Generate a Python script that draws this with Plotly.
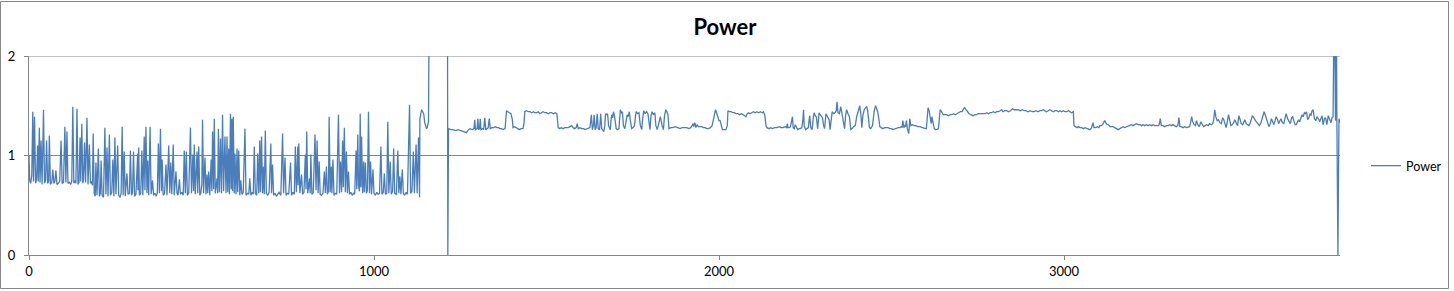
import plotly.graph_objects as go

# ---- data ----
low_regime = [
    (0, 1.00), (2, 0.75), (5, 0.72), (8, 0.80), (11, 1.44), (13, 0.74), (16, 1.39), (19, 0.72),
    (22, 0.76), (25, 1.10), (27, 0.74), (30, 1.28), (32, 0.73), (35, 1.15), (38, 0.71), (42, 1.46),
    (45, 0.72), (48, 0.75), (51, 1.15), (54, 0.72), (57, 0.74), (59, 1.20), (62, 0.71), (66, 0.73),
    (69, 0.86), (72, 0.72), (75, 0.74), (78, 0.85), (81, 0.71), (85, 0.72), (89, 0.74), (93, 1.15),
    (96, 0.72), (100, 0.73), (104, 1.29), (107, 0.73), (110, 1.24), (113, 0.72), (117, 0.73),
    (121, 0.71), (124, 0.74), (127, 1.49), (130, 0.72), (133, 0.75), (136, 0.72), (139, 1.47),
    (142, 0.71), (145, 0.73), (148, 1.18), (150, 0.74), (153, 1.32), (156, 0.72), (158, 0.75),
    (161, 1.13), (164, 0.73), (168, 1.38), (171, 0.71), (175, 1.11), (178, 0.72), (181, 0.74),
    (184, 0.70), (186, 1.22), (189, 0.62), (192, 0.59), (194, 0.93), (197, 0.60), (201, 1.07),
    (204, 0.59), (207, 0.62), (209, 0.95), (212, 0.60), (216, 0.58), (220, 1.28), (223, 0.61),
    (226, 1.08), (229, 0.59), (233, 1.21), (236, 0.60), (240, 0.63), (243, 0.96), (246, 0.59),
    (249, 1.18), (252, 0.61), (257, 1.10), (260, 0.60), (264, 0.58), (267, 0.62), (270, 1.29),
    (273, 0.60), (276, 1.04), (279, 0.59), (284, 0.82), (287, 0.61), (291, 0.62), (294, 1.05),
    (297, 0.60), (300, 0.63), (303, 1.04), (306, 0.59), (310, 0.61), (315, 1.02), (316, 0.65),
    (318, 1.08), (320, 0.60), (324, 0.62), (327, 1.05), (330, 0.60), (334, 1.19), (336, 0.65),
    (339, 1.29), (342, 0.62), (344, 0.95), (347, 0.60), (351, 1.29), (354, 0.61), (358, 0.75),
    (361, 0.60), (365, 0.62), (369, 0.59), (372, 0.63), (375, 1.12), (378, 0.62), (381, 1.27),
    (384, 0.64), (386, 0.96), (389, 0.60), (393, 0.62), (397, 0.91), (400, 0.60), (405, 1.10),
    (408, 0.62), (411, 0.93), (414, 0.61), (418, 1.11), (421, 0.60), (426, 0.84), (429, 0.62),
    (432, 0.60), (436, 0.76), (439, 0.61), (443, 0.63), (447, 0.60), (450, 1.05), (453, 0.62),
    (456, 1.04), (459, 0.60), (463, 0.62), (468, 1.28), (471, 0.62), (475, 1.01), (477, 0.64),
    (479, 1.11), (482, 0.61), (487, 1.04), (489, 0.62), (492, 1.09), (495, 0.60), (498, 0.62),
    (501, 0.71), (503, 1.36), (506, 0.62), (510, 0.98), (513, 0.61), (516, 0.81), (518, 0.62),
    (521, 0.84), (524, 0.60), (528, 0.96), (530, 0.64), (532, 1.24), (535, 0.66), (537, 1.37),
    (540, 0.62), (545, 0.77), (547, 0.62), (549, 1.27), (552, 0.63), (555, 1.17), (558, 0.62),
    (561, 1.41), (564, 0.64), (568, 1.19), (571, 0.62), (574, 1.19), (576, 0.63), (579, 1.07),
    (581, 0.61), (584, 1.42), (586, 0.66), (588, 1.37), (590, 0.64), (592, 1.39), (595, 0.62),
    (597, 1.02), (600, 0.61), (603, 1.07), (605, 0.63), (608, 1.05), (611, 0.60), (614, 0.75),
    (617, 0.61), (621, 0.63), (626, 1.27), (629, 0.60), (633, 0.62), (637, 0.61), (640, 0.77),
    (643, 0.60), (647, 0.63), (650, 0.61), (653, 1.09), (656, 0.62), (660, 0.60), (663, 1.02),
    (666, 0.62), (669, 1.15), (671, 0.63), (674, 1.19), (677, 0.62), (679, 0.89), (682, 0.61),
    (685, 1.25), (688, 0.62), (692, 0.60), (696, 0.63), (701, 1.12), (703, 0.62), (706, 0.91),
    (709, 0.60), (713, 0.62), (717, 0.59), (721, 0.61), (725, 0.63), (730, 0.60), (735, 1.22),
    (738, 0.62), (742, 0.98), (745, 0.60), (749, 0.62), (753, 0.61), (758, 0.93), (761, 0.60),
    (765, 0.63), (769, 0.61), (772, 1.09), (775, 0.63), (779, 1.09), (780, 0.70), (782, 1.12),
    (785, 0.62), (790, 0.81), (793, 0.61), (797, 0.63), (801, 1.01), (803, 0.66), (805, 1.24),
    (808, 0.62), (813, 0.77), (815, 0.62), (817, 1.01), (820, 0.61), (824, 0.63), (829, 1.21),
    (832, 0.65), (835, 1.15), (838, 0.62), (841, 0.94), (844, 0.61), (848, 0.60), (852, 0.62),
    (856, 0.84), (859, 0.62), (862, 0.89), (865, 0.61), (868, 0.64), (870, 1.39), (873, 0.63),
    (876, 0.89), (878, 0.62), (881, 0.96), (884, 0.60), (888, 0.62), (892, 0.61), (897, 1.41),
    (900, 0.62), (903, 0.94), (906, 0.63), (909, 1.15), (911, 0.68), (914, 1.28), (917, 0.63),
    (920, 1.04), (923, 0.62), (926, 0.84), (929, 0.61), (933, 0.63), (937, 0.60), (941, 0.62),
    (944, 0.61), (948, 1.05), (950, 0.66), (953, 1.21), (955, 0.70), (958, 0.64), (960, 1.42),
    (962, 0.68), (964, 1.19), (967, 0.62), (970, 0.94), (972, 0.63), (975, 0.93), (978, 0.62),
    (981, 0.65), (984, 1.44), (987, 0.62), (990, 0.94), (993, 0.61), (997, 0.86), (1000, 0.62),
    (1004, 0.60), (1008, 0.63), (1012, 0.61), (1016, 0.62), (1020, 1.09), (1023, 0.61),
    (1027, 0.63), (1030, 0.82), (1033, 0.61), (1037, 0.62), (1040, 1.34), (1043, 0.62),
    (1047, 0.94), (1050, 0.61), (1054, 0.64), (1057, 1.07), (1060, 0.62), (1065, 0.61),
    (1069, 1.05), (1072, 0.62), (1075, 0.79), (1078, 0.61), (1082, 0.86), (1085, 0.62),
    (1089, 0.60), (1093, 0.63), (1097, 0.61), (1103, 1.51), (1106, 0.62), (1110, 0.64),
    (1114, 1.04), (1117, 0.62), (1122, 1.11), (1125, 0.62), (1129, 1.18), (1132, 0.58),
    (1133, 1.37), (1136, 1.44), (1138, 1.46), (1141, 1.44), (1144, 1.42), (1147, 1.33),
    (1149, 1.29), (1152, 1.27), (1154, 1.28), (1156, 1.30), (1158, 1.34),
]

gap_segment = [(1160, 2.60), (1213, 2.60), (1214, 0.00)]

high_regime = [
    (1216, 1.27), (1222, 1.26), (1229, 1.26), (1236, 1.25), (1244, 1.26), (1252, 1.25),
    (1260, 1.24), (1268, 1.23), (1274, 1.26), (1278, 1.27), (1284, 1.26), (1290, 1.27),
    (1292, 1.36), (1294, 1.26), (1299, 1.27), (1301, 1.37), (1303, 1.26), (1306, 1.27),
    (1308, 1.37), (1310, 1.26), (1315, 1.27), (1318, 1.26), (1321, 1.38), (1324, 1.26),
    (1328, 1.27), (1331, 1.28), (1334, 1.37), (1337, 1.27), (1342, 1.28), (1347, 1.28),
    (1351, 1.29), (1356, 1.28), (1361, 1.28), (1365, 1.27), (1369, 1.27), (1374, 1.26),
    (1380, 1.27), (1384, 1.45), (1388, 1.44), (1393, 1.43), (1397, 1.42), (1401, 1.36),
    (1403, 1.28), (1408, 1.29), (1413, 1.28), (1417, 1.27), (1421, 1.26), (1426, 1.27),
    (1432, 1.27), (1435, 1.33), (1437, 1.44), (1442, 1.45), (1447, 1.44), (1452, 1.44),
    (1457, 1.43), (1462, 1.44), (1466, 1.43), (1471, 1.43), (1476, 1.44), (1481, 1.42),
    (1485, 1.43), (1490, 1.44), (1495, 1.43), (1500, 1.43), (1505, 1.42), (1510, 1.43),
    (1515, 1.43), (1520, 1.42), (1525, 1.43), (1530, 1.42), (1534, 1.28), (1538, 1.27),
    (1543, 1.28), (1548, 1.27), (1553, 1.28), (1558, 1.28), (1563, 1.28), (1568, 1.29),
    (1573, 1.30), (1577, 1.28), (1582, 1.27), (1586, 1.28), (1589, 1.32), (1592, 1.27),
    (1597, 1.28), (1602, 1.27), (1607, 1.27), (1612, 1.26), (1617, 1.27), (1622, 1.28),
    (1626, 1.28), (1630, 1.41), (1633, 1.26), (1636, 1.30), (1638, 1.41), (1641, 1.26),
    (1644, 1.28), (1647, 1.42), (1650, 1.27), (1654, 1.26), (1657, 1.42), (1660, 1.27),
    (1663, 1.25), (1666, 1.24), (1669, 1.30), (1671, 1.42), (1674, 1.41), (1677, 1.42),
    (1680, 1.30), (1685, 1.26), (1687, 1.35), (1689, 1.41), (1692, 1.38), (1694, 1.44),
    (1697, 1.40), (1700, 1.29), (1702, 1.27), (1706, 1.26), (1710, 1.27), (1714, 1.46),
    (1717, 1.43), (1720, 1.44), (1723, 1.30), (1727, 1.27), (1730, 1.35), (1734, 1.41),
    (1737, 1.39), (1740, 1.44), (1743, 1.35), (1747, 1.27), (1751, 1.28), (1755, 1.30),
    (1758, 1.40), (1760, 1.44), (1764, 1.42), (1768, 1.43), (1772, 1.30), (1776, 1.26),
    (1779, 1.38), (1782, 1.45), (1786, 1.42), (1790, 1.44), (1794, 1.42), (1797, 1.30),
    (1800, 1.26), (1803, 1.40), (1806, 1.44), (1810, 1.41), (1814, 1.43), (1817, 1.30),
    (1821, 1.26), (1826, 1.33), (1830, 1.39), (1835, 1.30), (1839, 1.26), (1842, 1.40),
    (1846, 1.46), (1849, 1.44), (1852, 1.41), (1855, 1.27), (1860, 1.28), (1867, 1.28),
    (1873, 1.29), (1880, 1.28), (1887, 1.27), (1893, 1.28), (1900, 1.28), (1906, 1.28),
    (1912, 1.27), (1918, 1.28), (1922, 1.30), (1925, 1.32), (1927, 1.29), (1930, 1.33),
    (1933, 1.28), (1936, 1.31), (1940, 1.29), (1945, 1.29), (1950, 1.29), (1955, 1.28),
    (1960, 1.28), (1965, 1.27), (1969, 1.27), (1975, 1.28), (1980, 1.30), (1985, 1.38),
    (1990, 1.46), (1994, 1.42), (1997, 1.37), (2000, 1.35), (2003, 1.35), (2006, 1.30),
    (2010, 1.26), (2015, 1.26), (2020, 1.26), (2024, 1.30), (2026, 1.45), (2030, 1.44),
    (2035, 1.44), (2040, 1.43), (2045, 1.43), (2050, 1.42), (2055, 1.42), (2059, 1.41),
    (2065, 1.42), (2070, 1.41), (2074, 1.40), (2078, 1.39), (2082, 1.42), (2086, 1.43),
    (2090, 1.42), (2095, 1.43), (2100, 1.44), (2105, 1.43), (2110, 1.44), (2115, 1.43),
    (2120, 1.44), (2125, 1.43), (2129, 1.44), (2133, 1.40), (2136, 1.30), (2139, 1.28),
    (2145, 1.27), (2150, 1.28), (2155, 1.27), (2162, 1.28), (2168, 1.28), (2175, 1.29),
    (2180, 1.28), (2186, 1.28), (2192, 1.29), (2196, 1.28), (2198, 1.32), (2200, 1.28),
    (2204, 1.28), (2207, 1.29), (2210, 1.33), (2213, 1.39), (2215, 1.28), (2218, 1.27),
    (2221, 1.31), (2224, 1.28), (2228, 1.26), (2232, 1.27), (2236, 1.27), (2240, 1.28),
    (2243, 1.35), (2245, 1.46), (2247, 1.30), (2251, 1.26), (2255, 1.27), (2259, 1.28),
    (2261, 1.35), (2263, 1.40), (2266, 1.28), (2270, 1.26), (2273, 1.37), (2276, 1.43),
    (2279, 1.40), (2282, 1.39), (2286, 1.27), (2290, 1.43), (2293, 1.41), (2297, 1.39),
    (2300, 1.38), (2303, 1.30), (2306, 1.27), (2310, 1.42), (2313, 1.39), (2316, 1.38),
    (2319, 1.36), (2322, 1.26), (2326, 1.38), (2328, 1.44), (2332, 1.42), (2336, 1.43),
    (2340, 1.45), (2342, 1.54), (2345, 1.43), (2349, 1.42), (2353, 1.49), (2357, 1.41),
    (2361, 1.35), (2364, 1.27), (2367, 1.40), (2370, 1.46), (2374, 1.42), (2378, 1.39),
    (2382, 1.26), (2386, 1.27), (2390, 1.29), (2395, 1.30), (2399, 1.39), (2404, 1.44),
    (2408, 1.50), (2411, 1.42), (2414, 1.28), (2417, 1.40), (2421, 1.46), (2425, 1.48),
    (2428, 1.49), (2431, 1.45), (2434, 1.30), (2436, 1.28), (2440, 1.27), (2445, 1.30),
    (2450, 1.45), (2454, 1.50), (2457, 1.47), (2460, 1.44), (2464, 1.35), (2466, 1.29),
    (2470, 1.28), (2475, 1.27), (2480, 1.28), (2485, 1.28), (2490, 1.28), (2495, 1.27),
    (2500, 1.27), (2504, 1.26), (2510, 1.27), (2515, 1.27), (2520, 1.28), (2525, 1.28),
    (2528, 1.29), (2531, 1.28), (2533, 1.35), (2536, 1.28), (2539, 1.30), (2541, 1.29),
    (2543, 1.35), (2546, 1.27), (2550, 1.22), (2553, 1.37), (2556, 1.30), (2560, 1.31),
    (2565, 1.30), (2570, 1.30), (2576, 1.29), (2582, 1.29), (2588, 1.28), (2594, 1.27),
    (2598, 1.27), (2601, 1.27), (2604, 1.40), (2606, 1.48), (2609, 1.45), (2612, 1.38),
    (2615, 1.32), (2617, 1.39), (2620, 1.32), (2624, 1.27), (2628, 1.26), (2632, 1.26),
    (2636, 1.27), (2639, 1.40), (2641, 1.46), (2645, 1.44), (2650, 1.41), (2655, 1.41),
    (2659, 1.41), (2665, 1.40), (2670, 1.41), (2675, 1.41), (2680, 1.42), (2685, 1.41),
    (2688, 1.42), (2694, 1.43), (2700, 1.44), (2705, 1.44), (2709, 1.47), (2712, 1.48),
    (2716, 1.46), (2720, 1.44), (2725, 1.42), (2730, 1.41), (2736, 1.40), (2741, 1.41),
    (2746, 1.41), (2751, 1.42), (2756, 1.42), (2761, 1.42), (2766, 1.42), (2771, 1.42),
    (2776, 1.43), (2781, 1.42), (2786, 1.43), (2790, 1.43), (2795, 1.44), (2800, 1.43),
    (2805, 1.44), (2810, 1.44), (2815, 1.45), (2819, 1.46), (2823, 1.44), (2828, 1.45),
    (2834, 1.45), (2839, 1.44), (2845, 1.45), (2851, 1.47), (2856, 1.46), (2862, 1.46),
    (2867, 1.46), (2873, 1.45), (2879, 1.46), (2885, 1.45), (2890, 1.45), (2896, 1.44),
    (2902, 1.45), (2908, 1.44), (2913, 1.44), (2919, 1.45), (2925, 1.44), (2930, 1.45),
    (2935, 1.45), (2940, 1.46), (2944, 1.45), (2949, 1.44), (2954, 1.45), (2959, 1.46),
    (2964, 1.45), (2969, 1.44), (2974, 1.45), (2979, 1.45), (2984, 1.44), (2988, 1.45),
    (2993, 1.44), (2998, 1.45), (3003, 1.44), (3008, 1.44), (3013, 1.45), (3018, 1.44),
    (3022, 1.43), (3027, 1.44), (3029, 1.30), (3033, 1.29), (3038, 1.28), (3042, 1.29),
    (3046, 1.28), (3051, 1.28), (3056, 1.27), (3061, 1.28), (3066, 1.27), (3070, 1.27),
    (3075, 1.26), (3080, 1.28), (3084, 1.33), (3087, 1.28), (3092, 1.28), (3097, 1.29),
    (3101, 1.28), (3104, 1.30), (3108, 1.30), (3112, 1.31), (3116, 1.33), (3118, 1.35),
    (3121, 1.33), (3125, 1.31), (3128, 1.31), (3133, 1.29), (3138, 1.29), (3142, 1.29),
    (3147, 1.28), (3152, 1.27), (3157, 1.26), (3162, 1.27), (3166, 1.28), (3171, 1.29),
    (3176, 1.28), (3181, 1.29), (3186, 1.30), (3190, 1.30), (3195, 1.31), (3200, 1.30),
    (3205, 1.31), (3210, 1.32), (3215, 1.31), (3220, 1.31), (3225, 1.30), (3229, 1.31),
    (3234, 1.30), (3239, 1.31), (3244, 1.30), (3249, 1.31), (3254, 1.30), (3258, 1.31),
    (3263, 1.30), (3268, 1.30), (3273, 1.30), (3276, 1.31), (3279, 1.37), (3282, 1.30),
    (3287, 1.30), (3292, 1.29), (3297, 1.30), (3302, 1.30), (3307, 1.31), (3312, 1.30),
    (3316, 1.31), (3320, 1.30), (3325, 1.29), (3330, 1.30), (3333, 1.38), (3336, 1.29),
    (3340, 1.29), (3345, 1.28), (3350, 1.29), (3355, 1.28), (3360, 1.29), (3364, 1.29),
    (3367, 1.33), (3370, 1.39), (3373, 1.34), (3377, 1.31), (3381, 1.30), (3384, 1.35),
    (3388, 1.31), (3392, 1.29), (3395, 1.32), (3397, 1.34), (3401, 1.31), (3405, 1.29),
    (3409, 1.30), (3413, 1.31), (3418, 1.30), (3422, 1.32), (3427, 1.31), (3431, 1.32),
    (3434, 1.36), (3437, 1.46), (3440, 1.39), (3444, 1.35), (3448, 1.36), (3452, 1.33),
    (3456, 1.32), (3460, 1.38), (3463, 1.36), (3466, 1.31), (3470, 1.28), (3474, 1.35),
    (3477, 1.41), (3480, 1.36), (3484, 1.30), (3488, 1.31), (3492, 1.33), (3495, 1.36),
    (3499, 1.32), (3503, 1.30), (3507, 1.40), (3510, 1.37), (3514, 1.32), (3518, 1.31),
    (3521, 1.34), (3524, 1.36), (3528, 1.32), (3532, 1.31), (3536, 1.30), (3540, 1.33),
    (3543, 1.38), (3546, 1.40), (3550, 1.38), (3553, 1.36), (3557, 1.34), (3562, 1.32),
    (3566, 1.30), (3570, 1.32), (3574, 1.37), (3577, 1.40), (3580, 1.44), (3584, 1.40),
    (3587, 1.36), (3590, 1.32), (3594, 1.29), (3598, 1.32), (3601, 1.37), (3605, 1.34),
    (3608, 1.31), (3612, 1.35), (3615, 1.39), (3619, 1.36), (3622, 1.32), (3626, 1.35),
    (3629, 1.37), (3633, 1.33), (3637, 1.32), (3641, 1.38), (3644, 1.42), (3648, 1.37),
    (3652, 1.34), (3656, 1.32), (3660, 1.38), (3663, 1.39), (3667, 1.34), (3670, 1.31),
    (3673, 1.31), (3677, 1.35), (3680, 1.36), (3683, 1.34), (3687, 1.39), (3690, 1.41),
    (3693, 1.39), (3697, 1.43), (3700, 1.42), (3703, 1.44), (3706, 1.36), (3710, 1.38),
    (3713, 1.42), (3716, 1.40), (3719, 1.45), (3722, 1.46), (3726, 1.37), (3730, 1.35),
    (3733, 1.39), (3736, 1.38), (3739, 1.36), (3741, 1.34), (3745, 1.38), (3748, 1.40),
    (3751, 1.31), (3755, 1.37), (3758, 1.38), (3762, 1.31), (3766, 1.40), (3770, 1.36),
    (3774, 1.33), (3777, 1.38), (3780, 1.39), (3783, 2.70), (3785, 1.36), (3787, 1.35),
    (3789, 2.70), (3791, 1.34), (3794, 0.00), (3797, 1.37), (3800, 1.33),
]

series_name = "Power"
chart_title = "Power"
x_ticks = [0, 1000, 2000, 3000]
y_ticks = [0, 1, 2]

points = low_regime + gap_segment + high_regime
xs = [p[0] for p in points]
ys = [p[1] for p in points]

LINE = "#4A7EBB"
GRID = "#868686"
FONT = "Lato, Carlito, 'Liberation Sans', sans-serif"

W, H = 1454, 291
ML, MR, MT, MB = 29, 114, 56, 36
PW = W - ML - MR
PH = H - MT - MB

fig = go.Figure()
fig.add_trace(go.Scatter(x=xs, y=ys, mode="lines", name=series_name,
                         line=dict(color=LINE, width=1.3)))

def px_x(p):
    return (p - ML) / PW

def px_y(p):
    return (H - MB - p) / PH

fig.update_layout(
    width=W, height=H,
    margin=dict(l=ML, r=MR, t=MT, b=MB, pad=0, autoexpand=False),
    paper_bgcolor="white", plot_bgcolor="white",
    font=dict(family=FONT, size=13, color="#000000"),
    title=dict(text="<b>" + chart_title + "</b>", xref="container", x=725 / W,
               xanchor="center", yref="container", y=1 - 27 / H, yanchor="middle",
               font=dict(family=FONT, size=22, color="#000000")),
    showlegend=True,
    legend=dict(x=px_x(1366), xanchor="left", y=px_y(166), yanchor="middle",
                font=dict(family=FONT, size=12.5, color="#000000"),
                bgcolor="rgba(0,0,0,0)", itemwidth=30),
    xaxis=dict(range=[0, 3800], tickvals=x_ticks, ticktext=[str(v) for v in x_ticks],
               showgrid=False, zeroline=False, showline=True, linecolor=GRID, linewidth=1,
               ticks="outside", ticklen=4, tickcolor=GRID, tickwidth=1,
               automargin=False,
               tickfont=dict(family=FONT, size=13, color="#000000")),
    yaxis=dict(range=[0, 2], tickvals=y_ticks, ticktext=[str(v) for v in y_ticks],
               showgrid=True, gridcolor=GRID, gridwidth=1, zeroline=False,
               showline=True, linecolor=GRID, linewidth=1,
               ticks="outside", ticklen=4, tickcolor=GRID, tickwidth=1,
               ticklabelstandoff=6, automargin=False,
               tickfont=dict(family=FONT, size=13, color="#000000")),
    shapes=[
        dict(type="line", xref="paper", yref="y", x0=0, x1=1, y0=2, y1=2,
             line=dict(color=GRID, width=1), layer="below"),
        dict(type="rect", xref="paper", yref="paper",
             x0=px_x(0.5), x1=px_x(1448.5), y0=px_y(288.5), y1=px_y(1.5),
             line=dict(color=GRID, width=1), fillcolor="rgba(0,0,0,0)", layer="below"),
    ],
)

fig.write_html("out.html")
